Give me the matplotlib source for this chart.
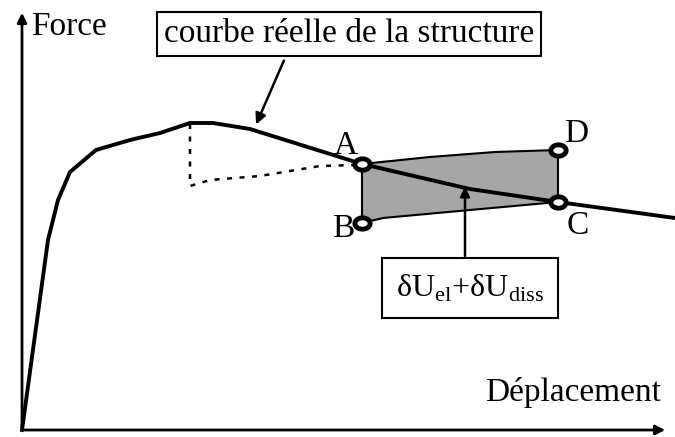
import numpy as np
import matplotlib.pyplot as plt
from matplotlib.patches import Polygon
from matplotlib.path import Path

plt.rcParams['font.family'] = ['Liberation Serif', 'DejaVu Serif']
plt.rcParams['mathtext.fontset'] = 'custom'
plt.rcParams['mathtext.rm'] = 'Liberation Serif'

# schéma en unités "image" (x vers la droite, y vers le bas)
courbe_x = [22, 48, 58, 70, 96, 130, 160, 190, 213, 250, 362, 470, 558, 675]
courbe_y = [430, 240, 200, 172, 150, 140, 133, 123, 123, 129, 164, 189, 202, 218]

pointille_x = [190, 190, 210, 260, 320, 355]
pointille_y = [124, 186, 180, 176, 166, 165]

# zone grisée A-D-C-B
zone_x = [362, 430, 495, 558, 558, 470, 383, 362]
zone_y = [164, 157, 152, 150, 202, 210, 218, 223]

pts_nom = ["A", "B", "C", "D"]
pts_x = [362, 362, 558, 558]
pts_y = [164, 223, 202, 150]
lab_x = [346, 343, 578, 576]
lab_y = [146, 229, 226, 134]

# marqueur elliptique
t = np.linspace(0, 2 * np.pi, 40)
ellipse = Path(np.column_stack([1.35 * np.cos(t), np.sin(t)]), closed=True)

fig = plt.figure(figsize=(6.75, 4.37), dpi=100)
ax = fig.add_axes([0, 0, 1, 1])
ax.set_xlim(0, 675)
ax.set_ylim(437, 0)
ax.axis("off")

# axes
ax.annotate("", xy=(22, 10), xytext=(22, 431),
            arrowprops=dict(arrowstyle="-|>", lw=2, color="black", mutation_scale=14))
ax.annotate("", xy=(668, 430), xytext=(21, 430),
            arrowprops=dict(arrowstyle="-|>", lw=2, color="black", mutation_scale=14))
ax.text(31, 27, "Force", fontsize=24, va="center", ha="left")
ax.text(661, 392, "Déplacement", fontsize=24, va="center", ha="right")

ax.add_patch(Polygon(np.column_stack([zone_x, zone_y]), closed=True,
                     facecolor="#a6a6a6", edgecolor="black", lw=1.5, zorder=1))
ax.plot(pointille_x, pointille_y, color="black", lw=1.8, ls=(0, (2, 3)), zorder=2)
ax.plot(courbe_x, courbe_y, color="black", lw=2.8, zorder=3, solid_joinstyle="miter")

ax.plot(pts_x, pts_y, marker=ellipse, ls="none", ms=11, mfc="white", mec="black",
        mew=3.5, zorder=4)
for n, x, y in zip(pts_nom, lab_x, lab_y):
    ax.text(x, y, n, fontsize=24, ha="center", va="center")

# étiquettes encadrées
ax.text(349, 34, "courbe réelle de la structure", fontsize=24, ha="center", va="center",
        bbox=dict(boxstyle="square,pad=0.2", fc="white", ec="black", lw=1.5))
ax.annotate("", xy=(255, 127), xytext=(285, 58),
            arrowprops=dict(arrowstyle="-|>", lw=1.8, color="black", mutation_scale=16))

ax.text(470, 288, "δU$_{\\mathrm{el}}$+δU$_{\\mathrm{diss}}$", fontsize=23,
        ha="center", va="center",
        bbox=dict(boxstyle="square,pad=0.45", fc="white", ec="black", lw=1.5))
ax.annotate("", xy=(465, 184), xytext=(465, 259),
            arrowprops=dict(arrowstyle="-|>", lw=1.8, color="black", mutation_scale=14))

fig.savefig("out.png", dpi=100)
